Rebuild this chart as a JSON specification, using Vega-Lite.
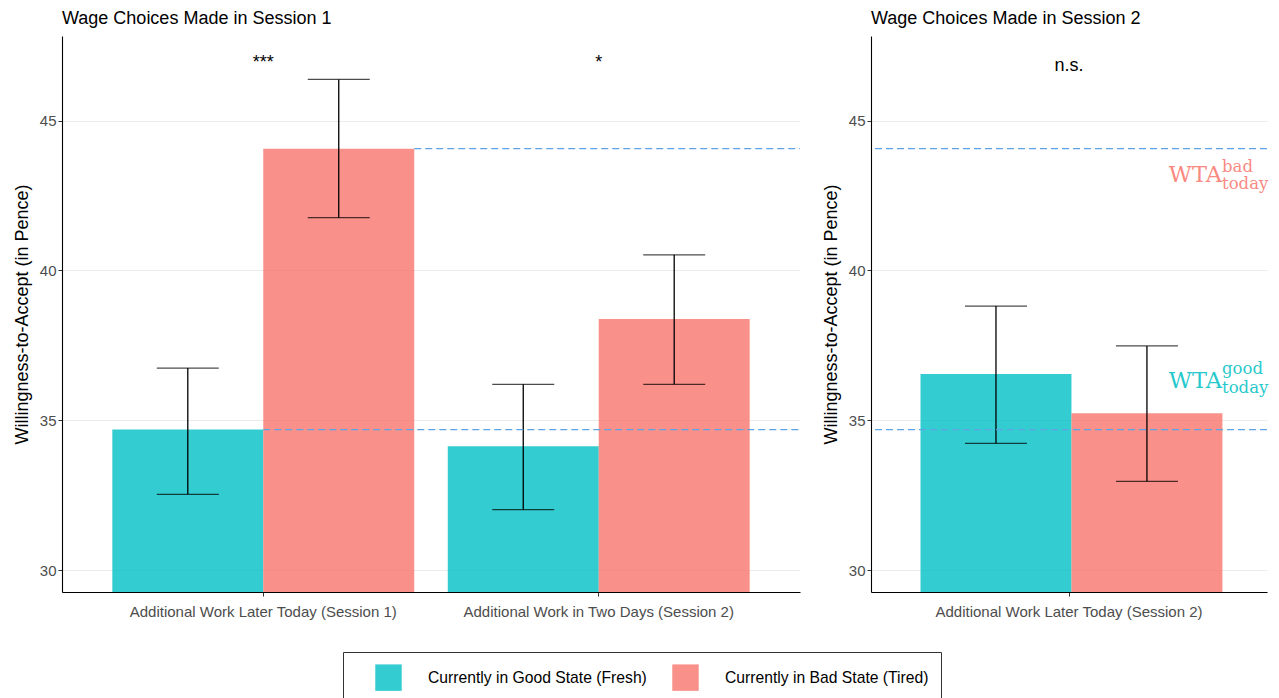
{
  "$schema": "https://vega.github.io/schema/vega-lite/v6.json",
  "background": "white",
  "padding": {"left": 13, "top": 10, "right": 5, "bottom": 0},
  "datasets": {
    "wta": [
      {"panel": "Session 1", "task": "Additional Work Later Today (Session 1)", "state": "Currently in Good State (Fresh)", "wta": 34.69, "lo": 32.53, "hi": 36.74},
      {"panel": "Session 1", "task": "Additional Work Later Today (Session 1)", "state": "Currently in Bad State (Tired)", "wta": 44.06, "lo": 41.76, "hi": 46.37},
      {"panel": "Session 1", "task": "Additional Work in Two Days (Session 2)", "state": "Currently in Good State (Fresh)", "wta": 34.13, "lo": 32.02, "hi": 36.2},
      {"panel": "Session 1", "task": "Additional Work in Two Days (Session 2)", "state": "Currently in Bad State (Tired)", "wta": 38.38, "lo": 36.2, "hi": 40.52},
      {"panel": "Session 2", "task": "Additional Work Later Today (Session 2)", "state": "Currently in Good State (Fresh)", "wta": 36.54, "lo": 34.23, "hi": 38.81},
      {"panel": "Session 2", "task": "Additional Work Later Today (Session 2)", "state": "Currently in Bad State (Tired)", "wta": 35.23, "lo": 32.96, "hi": 37.48}
    ],
    "sig": [
      {"panel": "Session 1", "task": "Additional Work Later Today (Session 1)", "label": "***"},
      {"panel": "Session 1", "task": "Additional Work in Two Days (Session 2)", "label": "*"},
      {"panel": "Session 2", "task": "Additional Work Later Today (Session 2)", "label": "n.s."}
    ],
    "ref": [
      {"which": "bad", "wta": 44.06},
      {"which": "good", "wta": 34.69}
    ]
  },
  "config": {
    "font": "Liberation Sans",
    "view": {"stroke": null},
    "title": {"fontSize": 18, "fontWeight": "normal", "color": "#000000", "anchor": "start", "frame": "group", "offset": 8},
    "axis": {
      "domainColor": "#000000",
      "domainWidth": 1.1,
      "tickColor": "#333333",
      "tickSize": 4,
      "labelColor": "#4d4d4d",
      "labelFontSize": 15,
      "labelLimit": 0,
      "titleFontSize": 18,
      "titleFontWeight": "normal",
      "titleColor": "#000000"
    },
    "legend": {
      "orient": "none",
      "legendX": 281,
      "legendY": 616,
      "direction": "horizontal",
      "title": null,
      "strokeColor": "#333333",
      "padding": 12,
      "symbolType": "square",
      "symbolSize": 700,
      "symbolOpacity": 0.8,
      "symbolStrokeWidth": 0,
      "symbolOffset": 20,
      "labelFontSize": 15.7,
      "labelLimit": 0,
      "labelColor": "#000000",
      "labelOffset": 26,
      "columnPadding": 5
    }
  },
  "spacing": 21,
  "resolve": {"scale": {"color": "shared"}},
  "hconcat": [
    {
      "title": "Wage Choices Made in Session 1",
      "width": 738,
      "height": 556,
      "layer": [
        {
          "data": {"name": "wta"},
          "transform": [{"filter": "datum.panel === 'Session 1'"}],
          "mark": {"type": "bar", "opacity": 0.8, "clip": true},
          "encoding": {
            "x": {"field": "task", "type": "nominal", "sort": null,
                  "scale": {"paddingInner": 0.1, "paddingOuter": 0.15},
                  "axis": {"title": null, "labelAngle": 0, "grid": false, "labelPadding": 8}},
            "xOffset": {"field": "state", "type": "nominal", "sort": ["Currently in Good State (Fresh)", "Currently in Bad State (Tired)"], "scale": {"paddingInner": 0, "paddingOuter": 0}},
            "y": {"field": "wta", "type": "quantitative",
                  "scale": {"domain": [29.27, 47.82], "zero": false, "nice": false},
                  "axis": {"title": "Willingness-to-Accept (in Pence)", "values": [30, 35, 40, 45], "grid": true, "gridColor": "#ebebeb", "titlePadding": 8}},
            "color": {"field": "state", "type": "nominal",
                      "sort": ["Currently in Good State (Fresh)", "Currently in Bad State (Tired)"],
                      "scale": {"domain": ["Currently in Good State (Fresh)", "Currently in Bad State (Tired)"], "range": ["#00BFC4", "#F8766D"]}}
          }
        },
        {
          "data": {"name": "wta"},
          "transform": [{"filter": "datum.panel === 'Session 1'"}],
          "mark": {"type": "rule", "color": "#000000", "strokeWidth": 1.3},
          "encoding": {
            "x": {"field": "task", "type": "nominal", "sort": null},
            "xOffset": {"field": "state", "type": "nominal", "sort": ["Currently in Good State (Fresh)", "Currently in Bad State (Tired)"]},
            "y": {"field": "lo", "type": "quantitative"},
            "y2": {"field": "hi"}
          }
        },
        {
          "data": {"name": "wta"},
          "transform": [{"filter": "datum.panel === 'Session 1'"}, {"fold": ["lo", "hi"], "as": ["end", "val"]}],
          "mark": {"type": "tick", "orient": "horizontal", "color": "#000000", "size": 62, "thickness": 1.3},
          "encoding": {
            "x": {"field": "task", "type": "nominal", "sort": null},
            "xOffset": {"field": "state", "type": "nominal", "sort": ["Currently in Good State (Fresh)", "Currently in Bad State (Tired)"]},
            "y": {"field": "val", "type": "quantitative"}
          }
        },
        {
          "data": {"name": "ref"},
          "transform": [{"filter": "datum.which === 'bad'"}],
          "mark": {"type": "rule", "color": "#5DA3E6", "strokeDash": [7, 4], "strokeWidth": 1.2},
          "encoding": {
            "x": {"datum": "Additional Work Later Today (Session 1)", "type": "nominal", "bandPosition": 1},
            "x2": {"value": "width"},
            "y": {"field": "wta", "type": "quantitative"}
          }
        },
        {
          "data": {"name": "ref"},
          "transform": [{"filter": "datum.which === 'good'"}],
          "mark": {"type": "rule", "color": "#5DA3E6", "strokeDash": [7, 4], "strokeWidth": 1.2},
          "encoding": {
            "x": {"datum": "Additional Work Later Today (Session 1)", "type": "nominal", "bandPosition": 0.5},
            "x2": {"value": "width"},
            "y": {"field": "wta", "type": "quantitative"}
          }
        },
        {
          "data": {"name": "sig"},
          "transform": [{"filter": "datum.panel === 'Session 1'"}],
          "mark": {"type": "text", "fontSize": 18, "color": "#000000", "baseline": "alphabetic"},
          "encoding": {
            "x": {"field": "task", "type": "nominal", "sort": null},
            "y": {"datum": 46.75, "type": "quantitative"},
            "text": {"field": "label"}
          }
        }
      ]
    },
    {
      "title": "Wage Choices Made in Session 2",
      "width": 396,
      "height": 556,
      "layer": [
        {
          "data": {"name": "wta"},
          "transform": [{"filter": "datum.panel === 'Session 2'"}],
          "mark": {"type": "bar", "opacity": 0.8, "clip": true},
          "encoding": {
            "x": {"field": "task", "type": "nominal", "sort": null,
                  "scale": {"paddingInner": 0.1, "paddingOuter": 0.15},
                  "axis": {"title": null, "labelAngle": 0, "grid": false, "labelPadding": 8}},
            "xOffset": {"field": "state", "type": "nominal", "sort": ["Currently in Good State (Fresh)", "Currently in Bad State (Tired)"], "scale": {"paddingInner": 0, "paddingOuter": 0}},
            "y": {"field": "wta", "type": "quantitative",
                  "scale": {"domain": [29.27, 47.82], "zero": false, "nice": false},
                  "axis": {"title": "Willingness-to-Accept (in Pence)", "values": [30, 35, 40, 45], "grid": true, "gridColor": "#ebebeb", "titlePadding": 8}},
            "color": {"field": "state", "type": "nominal",
                      "sort": ["Currently in Good State (Fresh)", "Currently in Bad State (Tired)"]}
          }
        },
        {
          "data": {"name": "wta"},
          "transform": [{"filter": "datum.panel === 'Session 2'"}],
          "mark": {"type": "rule", "color": "#000000", "strokeWidth": 1.3},
          "encoding": {
            "x": {"field": "task", "type": "nominal", "sort": null},
            "xOffset": {"field": "state", "type": "nominal", "sort": ["Currently in Good State (Fresh)", "Currently in Bad State (Tired)"]},
            "y": {"field": "lo", "type": "quantitative"},
            "y2": {"field": "hi"}
          }
        },
        {
          "data": {"name": "wta"},
          "transform": [{"filter": "datum.panel === 'Session 2'"}, {"fold": ["lo", "hi"], "as": ["end", "val"]}],
          "mark": {"type": "tick", "orient": "horizontal", "color": "#000000", "size": 62, "thickness": 1.3},
          "encoding": {
            "x": {"field": "task", "type": "nominal", "sort": null},
            "xOffset": {"field": "state", "type": "nominal", "sort": ["Currently in Good State (Fresh)", "Currently in Bad State (Tired)"]},
            "y": {"field": "val", "type": "quantitative"}
          }
        },
        {
          "data": {"name": "ref"},
          "mark": {"type": "rule", "color": "#5DA3E6", "strokeDash": [7, 4], "strokeWidth": 1.2},
          "encoding": {
            "y": {"field": "wta", "type": "quantitative"}
          }
        },
        {
          "data": {"name": "sig"},
          "transform": [{"filter": "datum.panel === 'Session 2'"}],
          "mark": {"type": "text", "fontSize": 18, "color": "#000000", "baseline": "alphabetic"},
          "encoding": {
            "x": {"field": "task", "type": "nominal", "sort": null},
            "y": {"datum": 46.66, "type": "quantitative"},
            "text": {"field": "label"}
          }
        },
        {
          "data": {"values": [{}]},
          "mark": {"type": "text", "text": "WTA", "font": "DejaVu Serif", "fontSize": 22.5, "color": "#F8766D", "opacity": 0.85, "align": "right", "baseline": "alphabetic", "dx": -45, "clip": false},
          "encoding": {"x": {"value": "width"}, "y": {"datum": 42.96, "type": "quantitative"}}
        },
        {
          "data": {"values": [{}]},
          "mark": {"type": "text", "text": "bad", "font": "DejaVu Serif", "fontSize": 16.5, "color": "#F8766D", "opacity": 0.85, "align": "left", "baseline": "alphabetic", "dx": -45, "clip": false},
          "encoding": {"x": {"value": "width"}, "y": {"datum": 43.29, "type": "quantitative"}}
        },
        {
          "data": {"values": [{}]},
          "mark": {"type": "text", "text": "today", "font": "DejaVu Serif", "fontSize": 16.5, "color": "#F8766D", "opacity": 0.85, "align": "left", "baseline": "alphabetic", "dx": -45, "clip": false},
          "encoding": {"x": {"value": "width"}, "y": {"datum": 42.73, "type": "quantitative"}}
        },
        {
          "data": {"values": [{}]},
          "mark": {"type": "text", "text": "WTA", "font": "DejaVu Serif", "fontSize": 22.5, "color": "#00BFC4", "opacity": 0.85, "align": "right", "baseline": "alphabetic", "dx": -45, "clip": false},
          "encoding": {"x": {"value": "width"}, "y": {"datum": 36.07, "type": "quantitative"}}
        },
        {
          "data": {"values": [{}]},
          "mark": {"type": "text", "text": "good", "font": "DejaVu Serif", "fontSize": 16.5, "color": "#00BFC4", "opacity": 0.85, "align": "left", "baseline": "alphabetic", "dx": -45, "clip": false},
          "encoding": {"x": {"value": "width"}, "y": {"datum": 36.54, "type": "quantitative"}}
        },
        {
          "data": {"values": [{}]},
          "mark": {"type": "text", "text": "today", "font": "DejaVu Serif", "fontSize": 16.5, "color": "#00BFC4", "opacity": 0.85, "align": "left", "baseline": "alphabetic", "dx": -45, "clip": false},
          "encoding": {"x": {"value": "width"}, "y": {"datum": 35.9, "type": "quantitative"}}
        }
      ]
    }
  ]
}
